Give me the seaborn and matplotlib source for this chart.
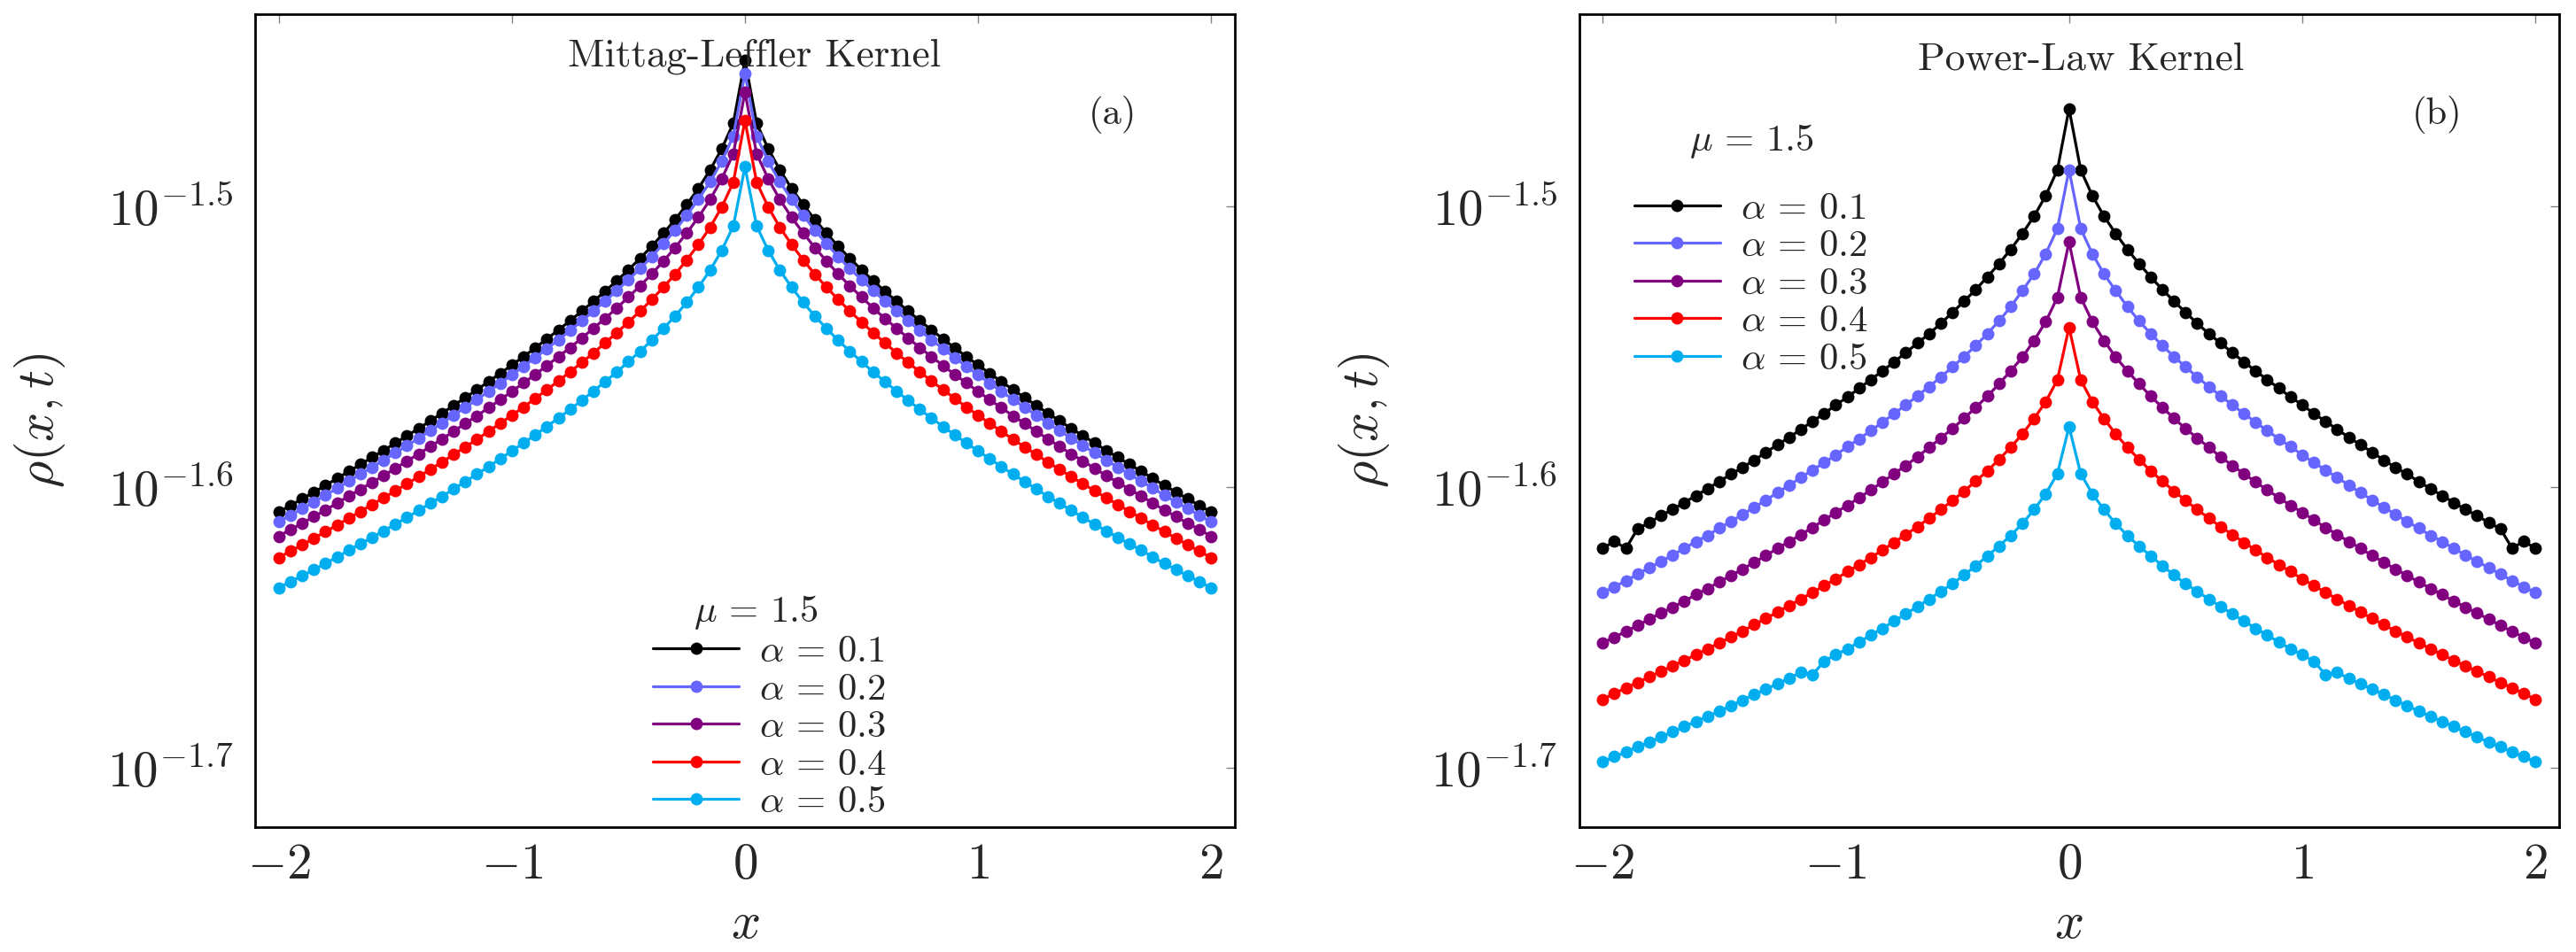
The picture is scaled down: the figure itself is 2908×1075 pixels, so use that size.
import numpy as np
import pandas as pd
import matplotlib
matplotlib.use("Agg")
import matplotlib.pyplot as plt
from matplotlib.lines import Line2D
from matplotlib.ticker import NullLocator
import seaborn as sns

# x grid of the simulation (81 points, step 0.05)
X = np.linspace(-2.0, 2.0, 81)

ALPHAS = ["0.1", "0.2", "0.3", "0.4", "0.5"]
COLORS = ["#000000", "#6666FF", "#800080", "#FF0000", "#00AEEF"]

# log10(rho), Mittag-Leffler kernel
ml_a01 = [-1.6089, -1.6065, -1.6042, -1.6018, -1.5994, -1.5969, -1.5944, -1.5919, -1.5894, -1.5869,
          -1.5843, -1.5817, -1.5791, -1.5764, -1.5737, -1.5709, -1.5681, -1.5653, -1.5624, -1.5595,
          -1.5565, -1.5535, -1.5504, -1.5472, -1.5440, -1.5407, -1.5373, -1.5338, -1.5302, -1.5265,
          -1.5226, -1.5185, -1.5142, -1.5096, -1.5047, -1.4994, -1.4936, -1.4871, -1.4795, -1.4704,
          -1.4479,
          -1.4704, -1.4795, -1.4871, -1.4936, -1.4994, -1.5047, -1.5096, -1.5142, -1.5185, -1.5226,
          -1.5265, -1.5302, -1.5338, -1.5373, -1.5407, -1.5440, -1.5472, -1.5504, -1.5535, -1.5565,
          -1.5595, -1.5624, -1.5653, -1.5681, -1.5709, -1.5737, -1.5764, -1.5791, -1.5817, -1.5843,
          -1.5869, -1.5894, -1.5919, -1.5944, -1.5969, -1.5994, -1.6018, -1.6042, -1.6065, -1.6089]
ml_a02 = [-1.6124, -1.6100, -1.6077, -1.6053, -1.6029, -1.6004, -1.5979, -1.5954, -1.5929, -1.5904,
          -1.5878, -1.5852, -1.5826, -1.5799, -1.5772, -1.5744, -1.5716, -1.5688, -1.5659, -1.5630,
          -1.5600, -1.5570, -1.5539, -1.5507, -1.5475, -1.5442, -1.5408, -1.5373, -1.5337, -1.5300,
          -1.5261, -1.5222, -1.5179, -1.5133, -1.5085, -1.5032, -1.4975, -1.4913, -1.4840, -1.4750,
          -1.4526,
          -1.4750, -1.4840, -1.4913, -1.4975, -1.5032, -1.5085, -1.5133, -1.5179, -1.5222, -1.5261,
          -1.5300, -1.5337, -1.5373, -1.5408, -1.5442, -1.5475, -1.5507, -1.5539, -1.5570, -1.5600,
          -1.5630, -1.5659, -1.5688, -1.5716, -1.5744, -1.5772, -1.5799, -1.5826, -1.5852, -1.5878,
          -1.5904, -1.5929, -1.5954, -1.5979, -1.6004, -1.6029, -1.6053, -1.6077, -1.6100, -1.6124]
ml_a03 = [-1.6175, -1.6151, -1.6129, -1.6105, -1.6082, -1.6057, -1.6032, -1.6008, -1.5983, -1.5959,
          -1.5933, -1.5907, -1.5882, -1.5855, -1.5829, -1.5801, -1.5773, -1.5746, -1.5717, -1.5689,
          -1.5659, -1.5629, -1.5599, -1.5567, -1.5535, -1.5503, -1.5469, -1.5434, -1.5399, -1.5362,
          -1.5323, -1.5283, -1.5241, -1.5195, -1.5147, -1.5095, -1.5039, -1.4976, -1.4902, -1.4813,
          -1.4593,
          -1.4813, -1.4902, -1.4976, -1.5039, -1.5095, -1.5147, -1.5195, -1.5241, -1.5283, -1.5323,
          -1.5362, -1.5399, -1.5434, -1.5469, -1.5503, -1.5535, -1.5567, -1.5599, -1.5629, -1.5659,
          -1.5689, -1.5717, -1.5746, -1.5773, -1.5801, -1.5829, -1.5855, -1.5882, -1.5907, -1.5933,
          -1.5959, -1.5983, -1.6008, -1.6032, -1.6057, -1.6082, -1.6105, -1.6129, -1.6151, -1.6175]
ml_a04 = [-1.6251, -1.6228, -1.6206, -1.6182, -1.6159, -1.6135, -1.6111, -1.6087, -1.6062, -1.6038,
          -1.6013, -1.5988, -1.5963, -1.5937, -1.5911, -1.5884, -1.5857, -1.5830, -1.5801, -1.5773,
          -1.5744, -1.5715, -1.5684, -1.5653, -1.5622, -1.5589, -1.5556, -1.5522, -1.5486, -1.5450,
          -1.5412, -1.5373, -1.5332, -1.5288, -1.5242, -1.5191, -1.5136, -1.5075, -1.5003, -1.4914,
          -1.4694,
          -1.4914, -1.5003, -1.5075, -1.5136, -1.5191, -1.5242, -1.5288, -1.5332, -1.5373, -1.5412,
          -1.5450, -1.5486, -1.5522, -1.5556, -1.5589, -1.5622, -1.5653, -1.5684, -1.5715, -1.5744,
          -1.5773, -1.5801, -1.5830, -1.5857, -1.5884, -1.5911, -1.5937, -1.5963, -1.5988, -1.6013,
          -1.6038, -1.6062, -1.6087, -1.6111, -1.6135, -1.6159, -1.6182, -1.6206, -1.6228, -1.6251]
ml_a05 = [-1.6359, -1.6337, -1.6316, -1.6294, -1.6272, -1.6249, -1.6225, -1.6202, -1.6179, -1.6156,
          -1.6132, -1.6108, -1.6083, -1.6058, -1.6033, -1.6007, -1.5980, -1.5954, -1.5927, -1.5899,
          -1.5871, -1.5843, -1.5814, -1.5784, -1.5754, -1.5723, -1.5691, -1.5658, -1.5624, -1.5590,
          -1.5553, -1.5516, -1.5477, -1.5435, -1.5391, -1.5342, -1.5288, -1.5228, -1.5157, -1.5070,
          -1.4859,
          -1.5070, -1.5157, -1.5228, -1.5288, -1.5342, -1.5391, -1.5435, -1.5477, -1.5516, -1.5553,
          -1.5590, -1.5624, -1.5658, -1.5691, -1.5723, -1.5754, -1.5784, -1.5814, -1.5843, -1.5871,
          -1.5899, -1.5927, -1.5954, -1.5980, -1.6007, -1.6033, -1.6058, -1.6083, -1.6108, -1.6132,
          -1.6156, -1.6179, -1.6202, -1.6225, -1.6249, -1.6272, -1.6294, -1.6316, -1.6337, -1.6359]

# log10(rho), power-law kernel
pl_a01 = [-1.6218, -1.6193, -1.6218, -1.6148, -1.6127, -1.6101, -1.6080, -1.6055, -1.6030, -1.6006,
          -1.5980, -1.5954, -1.5930, -1.5904, -1.5876, -1.5849, -1.5823, -1.5794, -1.5766, -1.5738,
          -1.5707, -1.5679, -1.5648, -1.5617, -1.5586, -1.5554, -1.5521, -1.5487, -1.5454, -1.5417,
          -1.5378, -1.5338, -1.5296, -1.5251, -1.5204, -1.5153, -1.5097, -1.5035, -1.4962, -1.4870,
          -1.4652,
          -1.4870, -1.4962, -1.5035, -1.5097, -1.5153, -1.5204, -1.5251, -1.5296, -1.5338, -1.5378,
          -1.5417, -1.5454, -1.5487, -1.5521, -1.5554, -1.5586, -1.5617, -1.5648, -1.5679, -1.5707,
          -1.5738, -1.5766, -1.5794, -1.5823, -1.5849, -1.5876, -1.5904, -1.5930, -1.5954, -1.5980,
          -1.6006, -1.6030, -1.6055, -1.6080, -1.6101, -1.6127, -1.6148, -1.6218, -1.6193, -1.6218]
pl_a02 = [-1.6376, -1.6355, -1.6334, -1.6310, -1.6287, -1.6265, -1.6242, -1.6218, -1.6194, -1.6172,
          -1.6146, -1.6123, -1.6097, -1.6072, -1.6046, -1.6020, -1.5993, -1.5966, -1.5939, -1.5913,
          -1.5885, -1.5856, -1.5828, -1.5799, -1.5769, -1.5738, -1.5707, -1.5675, -1.5642, -1.5608,
          -1.5572, -1.5535, -1.5496, -1.5453, -1.5408, -1.5357, -1.5300, -1.5241, -1.5169, -1.5079,
          -1.4870,
          -1.5079, -1.5169, -1.5241, -1.5300, -1.5357, -1.5408, -1.5453, -1.5496, -1.5535, -1.5572,
          -1.5608, -1.5642, -1.5675, -1.5707, -1.5738, -1.5769, -1.5799, -1.5828, -1.5856, -1.5885,
          -1.5913, -1.5939, -1.5966, -1.5993, -1.6020, -1.6046, -1.6072, -1.6097, -1.6123, -1.6146,
          -1.6172, -1.6194, -1.6218, -1.6242, -1.6265, -1.6287, -1.6310, -1.6334, -1.6355, -1.6376]
pl_a03 = [-1.6555, -1.6535, -1.6514, -1.6493, -1.6470, -1.6449, -1.6428, -1.6406, -1.6383, -1.6361,
          -1.6338, -1.6315, -1.6292, -1.6268, -1.6244, -1.6218, -1.6194, -1.6169, -1.6144, -1.6117,
          -1.6090, -1.6065, -1.6038, -1.6010, -1.5982, -1.5952, -1.5923, -1.5892, -1.5859, -1.5825,
          -1.5792, -1.5755, -1.5716, -1.5676, -1.5632, -1.5586, -1.5537, -1.5478, -1.5411, -1.5324,
          -1.5127,
          -1.5324, -1.5411, -1.5478, -1.5537, -1.5586, -1.5632, -1.5676, -1.5716, -1.5755, -1.5792,
          -1.5825, -1.5859, -1.5892, -1.5923, -1.5952, -1.5982, -1.6010, -1.6038, -1.6065, -1.6090,
          -1.6117, -1.6144, -1.6169, -1.6194, -1.6218, -1.6244, -1.6268, -1.6292, -1.6315, -1.6338,
          -1.6361, -1.6383, -1.6406, -1.6428, -1.6449, -1.6470, -1.6493, -1.6514, -1.6535, -1.6555]
pl_a04 = [-1.6756, -1.6735, -1.6715, -1.6696, -1.6676, -1.6656, -1.6637, -1.6617, -1.6597, -1.6576,
          -1.6555, -1.6534, -1.6513, -1.6490, -1.6468, -1.6445, -1.6422, -1.6399, -1.6375, -1.6351,
          -1.6327, -1.6301, -1.6276, -1.6251, -1.6224, -1.6197, -1.6169, -1.6141, -1.6111, -1.6080,
          -1.6048, -1.6014, -1.5979, -1.5942, -1.5901, -1.5858, -1.5811, -1.5756, -1.5696, -1.5618,
          -1.5431,
          -1.5618, -1.5696, -1.5756, -1.5811, -1.5858, -1.5901, -1.5942, -1.5979, -1.6014, -1.6048,
          -1.6080, -1.6111, -1.6141, -1.6169, -1.6197, -1.6224, -1.6251, -1.6276, -1.6301, -1.6327,
          -1.6351, -1.6375, -1.6399, -1.6422, -1.6445, -1.6468, -1.6490, -1.6513, -1.6534, -1.6555,
          -1.6576, -1.6597, -1.6617, -1.6637, -1.6656, -1.6676, -1.6696, -1.6715, -1.6735, -1.6756]
pl_a05 = [-1.6979, -1.6960, -1.6944, -1.6925, -1.6908, -1.6890, -1.6872, -1.6853, -1.6835, -1.6817,
          -1.6798, -1.6779, -1.6759, -1.6739, -1.6720, -1.6700, -1.6682, -1.6659, -1.6668, -1.6620,
          -1.6597, -1.6576, -1.6552, -1.6527, -1.6503, -1.6477, -1.6452, -1.6425, -1.6399, -1.6372,
          -1.6344, -1.6313, -1.6280, -1.6245, -1.6210, -1.6172, -1.6130, -1.6080, -1.6024, -1.5952,
          -1.5785,
          -1.5952, -1.6024, -1.6080, -1.6130, -1.6172, -1.6210, -1.6245, -1.6280, -1.6313, -1.6344,
          -1.6372, -1.6399, -1.6425, -1.6452, -1.6477, -1.6503, -1.6527, -1.6552, -1.6576, -1.6597,
          -1.6620, -1.6668, -1.6659, -1.6682, -1.6700, -1.6720, -1.6739, -1.6759, -1.6779, -1.6798,
          -1.6817, -1.6835, -1.6853, -1.6872, -1.6890, -1.6908, -1.6925, -1.6944, -1.6960, -1.6979]

YTICKS = [-1.5, -1.6, -1.7]
XTICKS = [-2, -1, 0, 1, 2]


def make_frame(series):
    parts = []
    for a, vals in zip(ALPHAS, series):
        parts.append(pd.DataFrame({"x": X, "rho": 10.0 ** np.array(vals), "alpha": a}))
    return pd.concat(parts, ignore_index=True)


sns.set_theme(style="white")
plt.rcParams["font.family"] = ["cmr10", "DejaVu Serif"]
plt.rcParams["mathtext.fontset"] = "cm"
plt.rcParams["axes.linewidth"] = 1.0
plt.rcParams["axes.edgecolor"] = "black"

fig = plt.figure(figsize=(14.54, 5.375), dpi=200)
ax1 = fig.add_axes([0.0992, 0.1312, 0.380, 0.854])
ax2 = fig.add_axes([0.6131, 0.1312, 0.3802, 0.854])

SMALL = 15.4
MS = 5.0

panels = [
    (ax1, [ml_a01, ml_a02, ml_a03, ml_a04, ml_a05], "Mittag-Leffler Kernel", (0.510, 0.9366), "(a)",
     (0.406, 0.236), (0.511, 0.2525)),
    (ax2, [pl_a01, pl_a02, pl_a03, pl_a04, pl_a05], "Power-Law Kernel", (0.512, 0.9322), "(b)",
     (0.056, 0.781), (0.1755, 0.832)),
]

for ax, series, title, title_pos, tag, leg_pos, mu_pos in panels:
    df = make_frame(series)
    sns.lineplot(data=df, x="x", y="rho", hue="alpha", hue_order=ALPHAS, palette=COLORS,
                 marker="o", markersize=MS, markeredgewidth=0, linewidth=1.15,
                 estimator=None, sort=False, legend=False, ax=ax)
    ax.set_yscale("log")
    ax.set_xlim(-2.1, 2.1)
    ax.set_ylim(10 ** -1.7211, 10 ** -1.4315)
    ax.set_yticks([10 ** t for t in YTICKS], [r"$10^{%g}$" % t for t in YTICKS])
    ax.yaxis.set_minor_locator(NullLocator())
    ax.set_xticks(XTICKS, [r"$%d$" % t for t in XTICKS])
    ax.tick_params(axis="both", which="major", direction="in", length=3.6, width=0.5,
                   color="#808080", top=True, right=True, labelsize=20.5)
    ax.tick_params(axis="y", pad=9)
    ax.tick_params(axis="x", pad=6.5)
    for sp in ax.spines.values():
        sp.set_color("black")
        sp.set_linewidth(1.0)

    ax.set_xlabel(r"$x$", fontsize=21)
    ax.set_ylabel(r"$\rho(x,t)$", fontsize=21)
    ax.xaxis.set_label_coords(0.5, -0.093)
    ax.yaxis.set_label_coords(-0.192, 0.5)

    ax.text(title_pos[0], title_pos[1], title, transform=ax.transAxes, ha="center",
            va="baseline", fontsize=16.3)
    ax.text(0.8755, 0.876, tag, transform=ax.transAxes, ha="center", va="center",
            fontsize=SMALL)
    ax.text(mu_pos[0], mu_pos[1], r"$\mu\,=\,1.5$", transform=ax.transAxes,
            ha="center", va="baseline", fontsize=SMALL)

    handles = [Line2D([], [], color=c, lw=1.15, marker="o", markersize=MS,
                      markeredgewidth=0) for c in COLORS]
    labels = [r"$\alpha\,=\,%s$" % a for a in ALPHAS]
    ax.legend(handles, labels, loc="upper left", bbox_to_anchor=leg_pos, frameon=False,
              borderpad=0, borderaxespad=0, handlelength=2.27, handletextpad=0.54,
              labelspacing=0.105, fontsize=SMALL)

fig.savefig("out.png", dpi=200)
